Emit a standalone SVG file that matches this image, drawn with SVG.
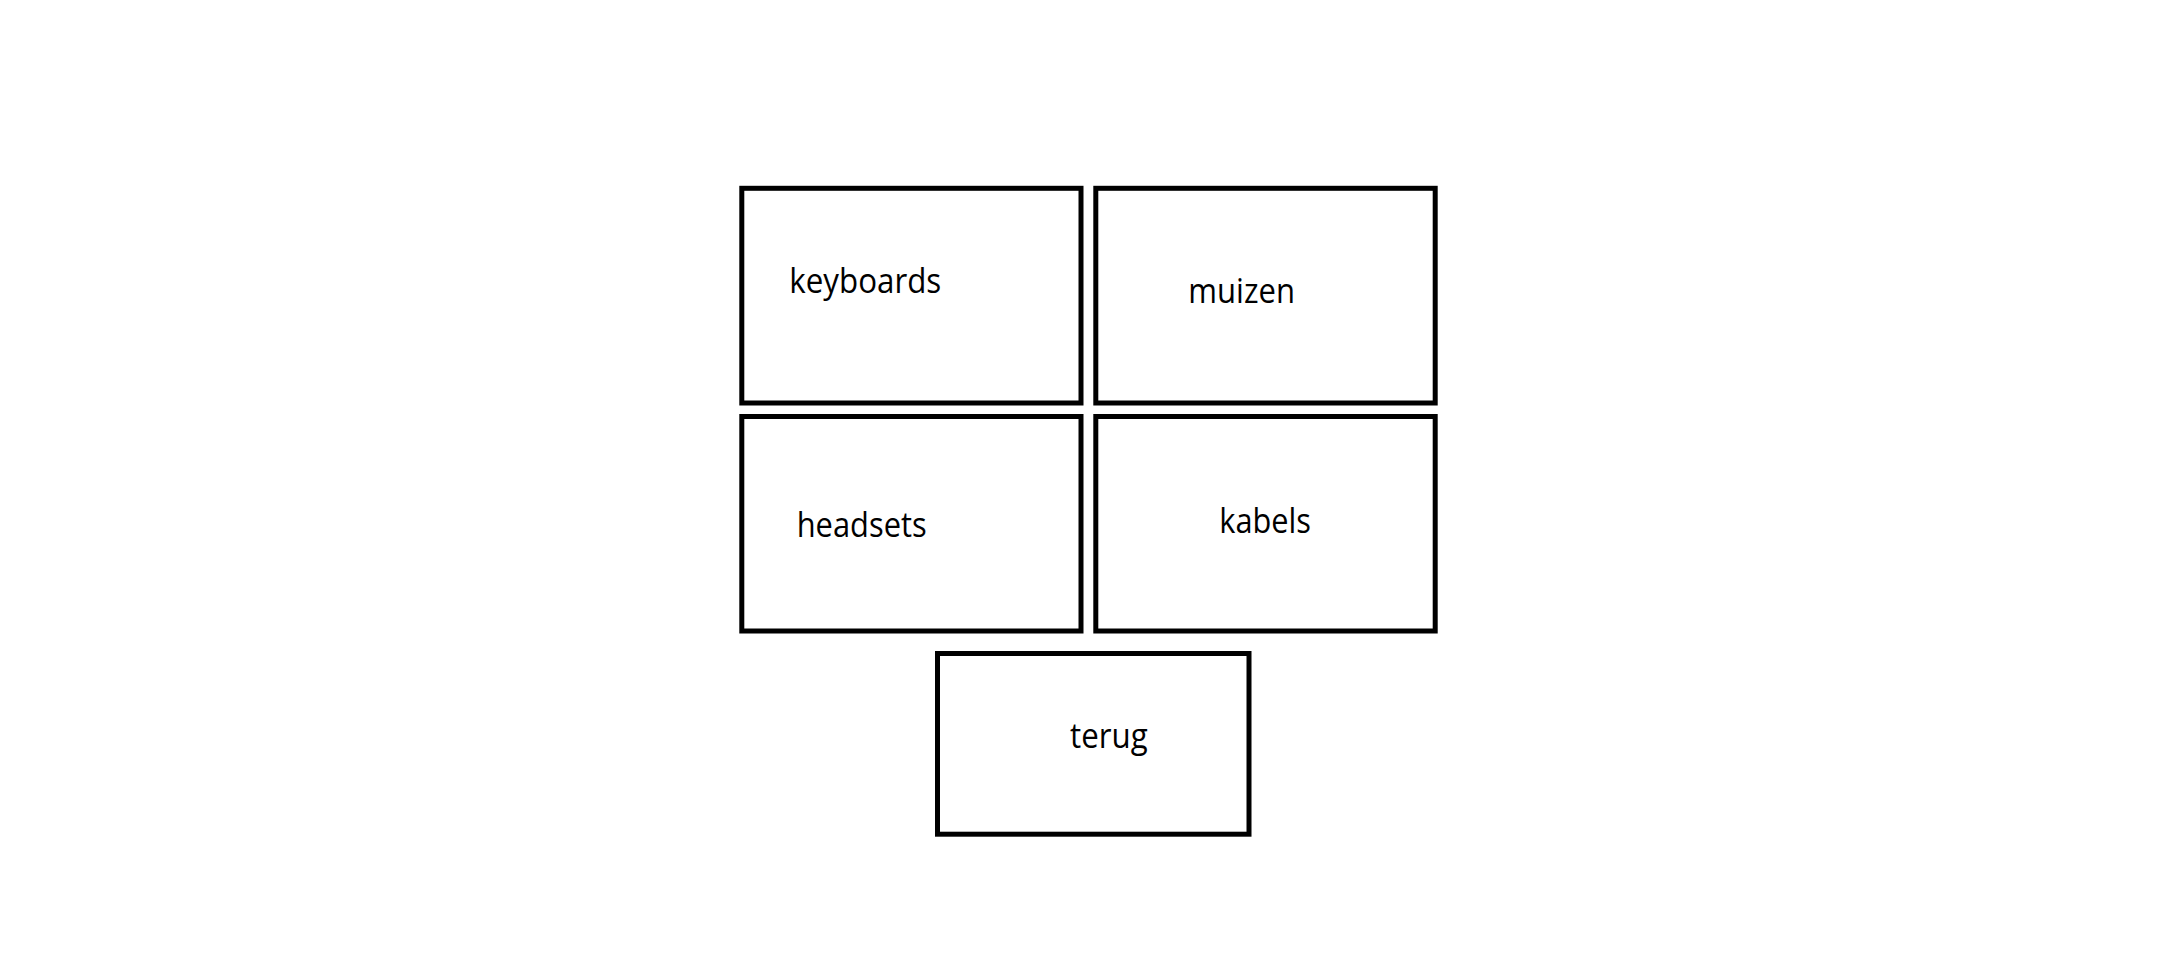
<svg xmlns="http://www.w3.org/2000/svg" width="2158" height="954" viewBox="0 0 2158 954">
<style>
.box{fill:#fff;stroke:#000;stroke-width:5}
.lbl{font-family:"Open Sans","Noto Sans",sans-serif;font-size:34px;fill:#000}
</style>
<rect width="2158" height="954" fill="#fff"/>
<g id="connectors"></g>
<g id="keyboards">
<rect class="box" x="741.8" y="188.3" width="339.2" height="214.7"/>
<text class="lbl" x="789.3" y="292.7" textLength="152" lengthAdjust="spacingAndGlyphs">keyboards</text>
</g>
<g id="muizen">
<rect class="box" x="1095.8" y="188.3" width="339.4" height="214.7"/>
<text class="lbl" x="1188.3" y="302.7" textLength="106.7" lengthAdjust="spacingAndGlyphs">muizen</text>
</g>
<g id="headsets">
<rect class="box" x="741.8" y="416.5" width="339.2" height="214.5"/>
<text class="lbl" x="796.7" y="536.7" textLength="130" lengthAdjust="spacingAndGlyphs">headsets</text>
</g>
<g id="kabels">
<rect class="box" x="1095.8" y="416.5" width="339.4" height="214.5"/>
<text class="lbl" x="1219.3" y="533.3" textLength="91.7" lengthAdjust="spacingAndGlyphs">kabels</text>
</g>
<g id="terug">
<rect class="box" x="937.5" y="653.5" width="311.5" height="180.7"/>
<text class="lbl" x="1070" y="748.3" textLength="77.7" lengthAdjust="spacingAndGlyphs">terug</text>
</g>
</svg>
